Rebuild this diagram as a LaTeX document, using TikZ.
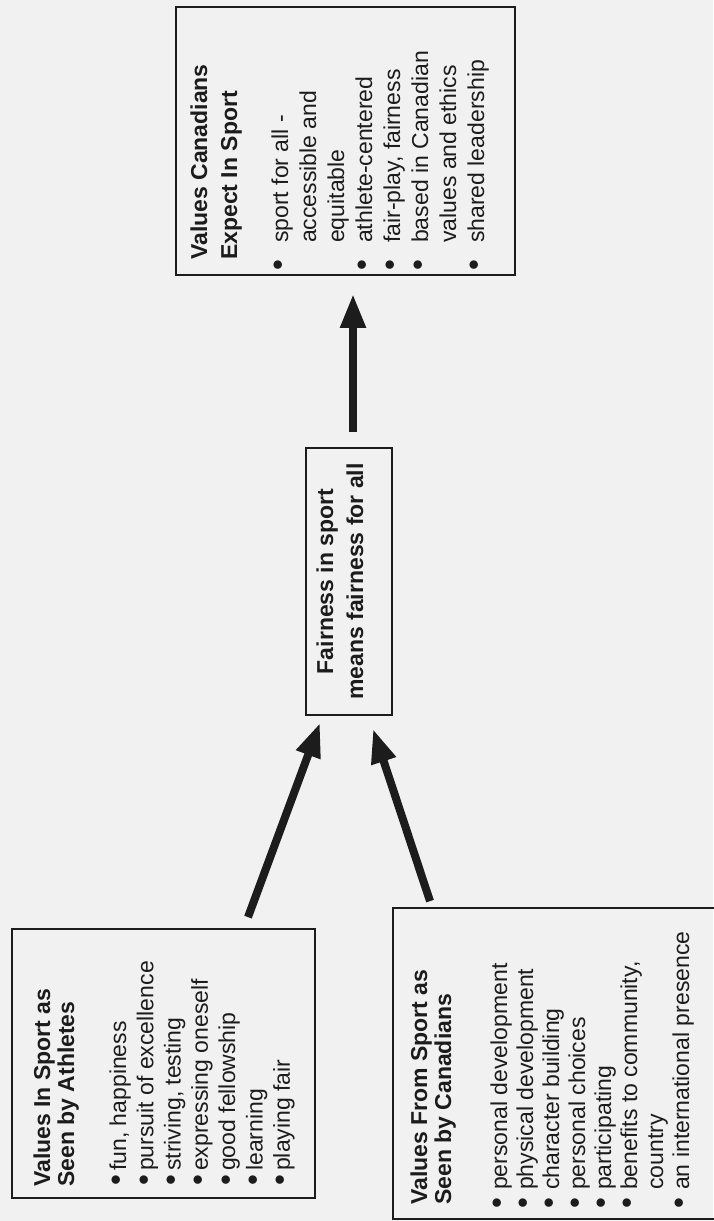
\documentclass[tikz,border=0pt]{standalone}
\usepackage{fontspec}
\setmainfont{Liberation Sans}
\usetikzlibrary{arrows.meta,calc}
\definecolor{bgc}{RGB}{241,241,241}
\definecolor{ink}{RGB}{28,28,28}
\newcommand{\bdot}{\raisebox{-0.9pt}{\scalebox{1.35}{\textbullet}}}
\newcommand{\bitem}[3]{\makebox[#2][l]{\hspace*{#1}\bdot}#3}
\newcommand{\bcont}[2]{\hspace*{#1}#2}
\tikzset{
  box/.style={draw=ink, line width=1.8pt, inner sep=0pt},
  txt/.style={rotate=90, inner sep=0pt, text=ink, font=\fontsize{23}{24}\selectfont},
  bigarrow/.style={draw=ink, fill=ink, line width=8pt, -{Triangle[length=34pt,width=24pt]}}
}
\begin{document}
\begin{tikzpicture}[x=1pt,y=-1pt]
\useasboundingbox (0,0) rectangle (713,1221);
\fill[bgc] (0,0) rectangle (713,1221);

% boxes
\node[box, minimum width=339pt, minimum height=268pt] (T) at (345.5,141) {};
\node[box, minimum width=86pt, minimum height=267pt] (M) at (349,581.5) {};
\node[box, minimum width=303pt, minimum height=269pt] (A) at (163.5,1063.5) {};
\node[box, minimum width=325pt, minimum height=311pt] (C) at (555.5,1063.5) {};

% texts
\node[txt, anchor=base west] (tT) at (207,271) {\begin{tabular}[t]{@{}l@{}}
\hspace*{11pt}\textbf{Values Canadians}\\[6pt]
\hspace*{11pt}\textbf{Expect In Sport}\\[27pt]
\bitem{0pt}{28pt}{sport for all -}\\[4pt]
\bcont{28pt}{accessible and}\\[4pt]
\bcont{28pt}{equitable}\\[4pt]
\bitem{0pt}{28pt}{athlete-centered}\\[4pt]
\bitem{0pt}{28pt}{fair-play, fairness}\\[4pt]
\bitem{0pt}{28pt}{based in Canadian}\\[4pt]
\bcont{28pt}{values and ethics}\\[4pt]
\bitem{0pt}{28pt}{shared leadership}
\end{tabular}};

\node[txt, anchor=base] (tM) at (333,581.5) {\begin{tabular}[t]{@{}c@{}}
\textbf{Fairness in sport}\\[6pt]
\textbf{means fairness for all}
\end{tabular}};

\node[txt, anchor=base west] (tA) at (50,1187) {\begin{tabular}[t]{@{}l@{}}
\textbf{Values In Sport as}\\
\textbf{Seen by Athletes}\\[28pt]
\bitem{1pt}{16pt}{fun, happiness}\\[3.3pt]
\bitem{1pt}{16pt}{pursuit of excellence}\\[3.3pt]
\bitem{1pt}{16pt}{striving, testing}\\[3.3pt]
\bitem{1pt}{16pt}{expressing oneself}\\[3.3pt]
\bitem{1pt}{16pt}{good fellowship}\\[3.3pt]
\bitem{1pt}{16pt}{learning}\\[3.3pt]
\bitem{1pt}{16pt}{playing fair}
\end{tabular}};

\node[txt, anchor=base west] (tC) at (427,1209) {\begin{tabular}[t]{@{}l@{}}
\hspace*{4pt}\textbf{Values From Sport as}\\
\hspace*{4pt}\textbf{Seen by Canadians}\\[32pt]
\bitem{0pt}{19pt}{personal development}\\[2pt]
\bitem{0pt}{19pt}{physical development}\\[2pt]
\bitem{0pt}{19pt}{character building}\\[2pt]
\bitem{0pt}{19pt}{personal choices}\\[2pt]
\bitem{0pt}{19pt}{participating}\\[2pt]
\bitem{0pt}{19pt}{benefits to community,}\\[2pt]
\bcont{19pt}{country}\\[2pt]
\bitem{0pt}{19pt}{an international presence}
\end{tabular}};

% arrows
\draw[bigarrow] ($(M.north)+(4,-15)$) -- ($(T.south)+(7.5,18)$);
\draw[bigarrow] ($(A.north)+(84.5,-11)$) -- ($(M.south)+(-29,7)$);
\draw[bigarrow] ($(C.north)+(-125.5,-6)$) -- ($(M.south)+(24,13)$);
\end{tikzpicture}
\end{document}
